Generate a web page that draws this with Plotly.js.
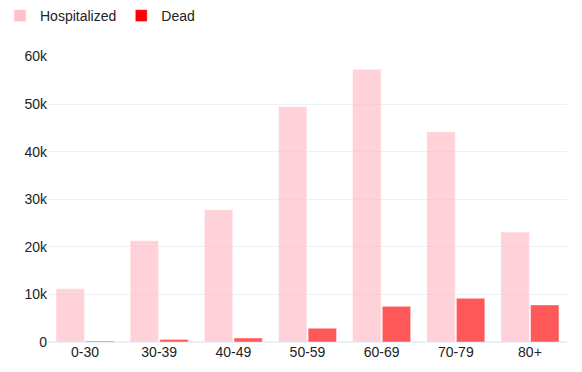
<!DOCTYPE html>
<html><head><meta charset="utf-8">
<script src="https://cdn.plot.ly/plotly-3.0.1.min.js"></script>
<style>html,body{margin:0;padding:0;background:#fff}#chart{width:582px;height:372px}</style>
</head><body><div id="chart"></div>
<script>
const categories = ["0-30","30-39","40-49","50-59","60-69","70-79","80+"];
const hospitalized = [11200, 21300, 27800, 49500, 57300, 44200, 23100];
const dead = [200, 550, 850, 2900, 7500, 9200, 7800];

const data = [
  {type:'bar', name:'Hospitalized', x:categories, y:hospitalized,
   marker:{color:'#FFC0CB', opacity:0.72, line:{color:'rgba(255,255,255,0.5)', width:1}}},
  {type:'bar', name:'Dead', x:categories, y:dead,
   marker:{color:'#FF0000', opacity:0.65, line:{color:'rgba(255,255,255,0.5)', width:1}}}
];
const layout = {
  width:582, height:372,
  margin:{l:48, r:15, t:56, b:30, autoexpand:false},
  paper_bgcolor:'#fff', plot_bgcolor:'#fff',
  font:{family:'Arial, "Liberation Sans", sans-serif', size:14, color:'#222'},
  barmode:'group', bargap:0.2, bargroupgap:0.04,
  showlegend:true,
  legend:{orientation:'h', xref:'container', yref:'container', x:0, xanchor:'left', y:1, yanchor:'top', font:{size:14}},
  xaxis:{type:'category', showgrid:false, ticks:'', showline:false, zeroline:false},
  yaxis:{range:[0,60100], tickvals:[0,10000,20000,30000,40000,50000,60000],
         ticktext:['0','10k','20k','30k','40k','50k','60k'],
         showgrid:true, gridcolor:'#EBF0F8', zeroline:true, zerolinecolor:'#EBF0F8', zerolinewidth:2, ticks:'', showline:false}
};
Plotly.newPlot('chart', data, layout, {displayModeBar:false, staticPlot:true});
</script></body></html>
